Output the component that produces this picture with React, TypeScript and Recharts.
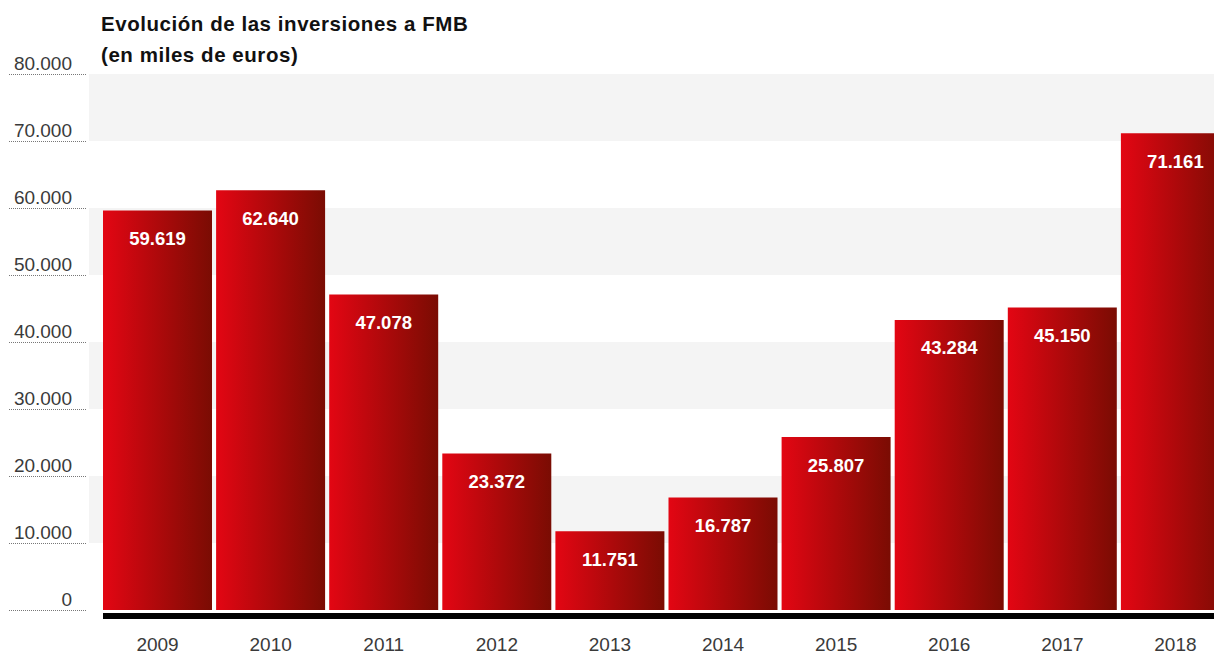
import React from "react";
import {
  BarChart,
  Bar,
  XAxis,
  YAxis,
  CartesianGrid,
  LabelList,
  ReferenceLine,
} from "recharts";

const years = ["2009", "2010", "2011", "2012", "2013", "2014", "2015", "2016", "2017", "2018"];
const investments = [59619, 62640, 47078, 23372, 11751, 16787, 25807, 43284, 45150, 71161];
const yTicks = [0, 10000, 20000, 30000, 40000, 50000, 60000, 70000, 80000];

const data = years.map((year, i) => ({ year, value: investments[i] }));

const FONT = '"Liberation Sans", Arial, Helvetica, sans-serif';

// 59619 -> "59.619"
const fmt = (v: number) => String(Math.round(v)).replace(/\B(?=(\d{3})+(?!\d))/g, ".");

const YTick = (props: any) => {
  const { y, payload } = props;
  return (
    <g>
      <line x1={9} x2={87} y1={y + 0.5} y2={y + 0.5} stroke="#777" strokeWidth={1} strokeDasharray="1 1" />
      <text x={72} y={y - 4} textAnchor="end" fontSize={19} fill="#3a3a3a" fontFamily={FONT}>
        {fmt(payload.value)}
      </text>
    </g>
  );
};

const XTick = (props: any) => {
  const { x, payload } = props;
  return (
    <text x={x} y={651} textAnchor="middle" fontSize={19} fill="#3a3a3a" fontFamily={FONT}>
      {payload.value}
    </text>
  );
};

const BarValue = (props: any) => {
  const { x, y, width, value } = props;
  return (
    <text
      x={x + width / 2}
      y={y + 28}
      textAnchor="middle"
      dominantBaseline="central"
      fontSize={18.5}
      fontWeight="bold"
      fill="#fff"
      fontFamily={FONT}
    >
      {fmt(value)}
    </text>
  );
};

// thick black base under the bars, starting at the first bar's left edge
const BaseLine = (props: any) => {
  const { x1, x2, y1 } = props;
  return <line x1={x1 + 14} x2={x2} y1={y1 + 6} y2={y1 + 6} stroke="#000" strokeWidth={6} />;
};

export default function App() {
  return (
    <div
      style={{
        position: "absolute",
        left: 0,
        top: 0,
        width: 1214,
        height: 655,
        overflow: "hidden",
        background: "#fff",
      }}
    >
      <div
        style={{
          position: "absolute",
          left: 101,
          top: 8,
          fontFamily: FONT,
          fontWeight: "bold",
          fontSize: 20.5,
          lineHeight: "31px",
          color: "#111",
          letterSpacing: 0.55,
          whiteSpace: "nowrap",
        }}
      >
        Evolución de las inversiones a FMB
        <br />
        (en miles de euros)
      </div>
      <BarChart
        width={1232}
        height={655}
        data={data}
        margin={{ top: 74, right: 0, bottom: 0, left: 0 }}
        barSize={109}
      >
        <defs>
          <linearGradient id="barGrad" x1="0" y1="0" x2="1" y2="0">
            <stop offset="0%" stopColor="#e30613" />
            <stop offset="100%" stopColor="#7a0c03" />
          </linearGradient>
        </defs>
        <CartesianGrid
          vertical={false}
          stroke="none"
          horizontalFill={["#f4f4f4", "#ffffff"]}
        />
        <XAxis
          dataKey="year"
          height={45}
          padding={{ left: 12, right: 0 }}
          axisLine={false}
          tickLine={false}
          interval={0}
          tick={<XTick />}
        />
        <YAxis
          width={89}
          domain={[0, 80000]}
          ticks={yTicks}
          axisLine={false}
          tickLine={false}
          tick={<YTick />}
        />
        <Bar dataKey="value" fill="url(#barGrad)" isAnimationActive={false}>
          <LabelList dataKey="value" content={<BarValue />} />
        </Bar>
        <ReferenceLine y={0} shape={<BaseLine />} />
      </BarChart>
    </div>
  );
}
